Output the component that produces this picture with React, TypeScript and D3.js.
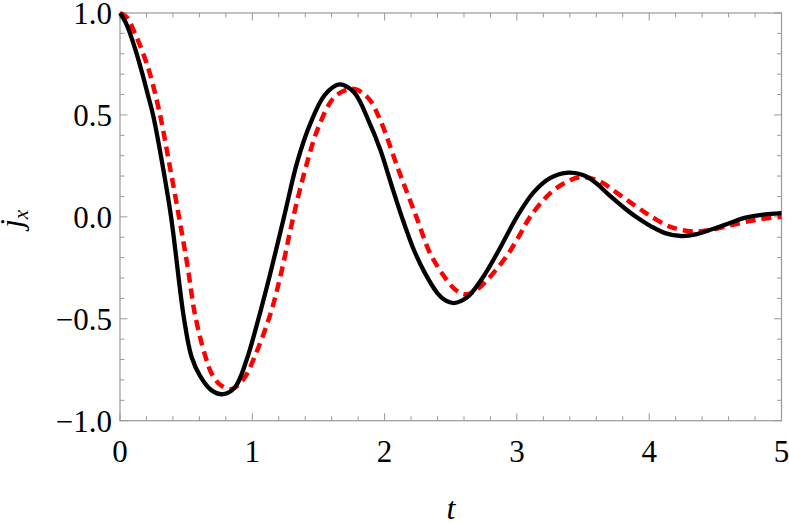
import React from "react";
import * as d3 from "d3";

const blackT = [0, 0.04, 0.076, 0.126, 0.17, 0.21, 0.25, 0.32, 0.386, 0.484, 0.54, 0.605, 0.69, 0.78, 0.87, 0.958, 1.034, 1.135, 1.24, 1.34, 1.44, 1.55, 1.66, 1.77, 1.88, 1.967, 2.05, 2.13, 2.22, 2.3, 2.4, 2.46, 2.52, 2.58, 2.64, 2.75, 2.875, 3.0, 3.126, 3.25, 3.39, 3.5, 3.6, 3.7, 3.8, 3.9, 4.01, 4.12, 4.24, 4.36, 4.48, 4.61, 4.72, 4.85, 5.0];
const blackV = [1.0, 0.957, 0.9, 0.8, 0.7, 0.6, 0.5, 0.26, 0.0, -0.5, -0.685, -0.78, -0.85, -0.87, -0.835, -0.7, -0.53, -0.28, 0.0, 0.27, 0.46, 0.6, 0.65, 0.61, 0.47, 0.33, 0.16, 0.0, -0.16, -0.27, -0.375, -0.41, -0.423, -0.412, -0.385, -0.29, -0.15, 0.0, 0.12, 0.19, 0.217, 0.205, 0.165, 0.105, 0.05, 0.0, -0.045, -0.08, -0.094, -0.085, -0.06, -0.03, -0.005, 0.01, 0.018];

const redT = [0, 0.05, 0.113, 0.17, 0.227, 0.303, 0.37, 0.446, 0.51, 0.567, 0.643, 0.694, 0.76, 0.84, 0.93, 1.034, 1.14, 1.22, 1.31, 1.42, 1.5, 1.61, 1.7, 1.78, 1.88, 1.97, 2.105, 2.24, 2.345, 2.47, 2.54, 2.61, 2.68, 2.775, 2.925, 3.02, 3.1, 3.25, 3.38, 3.49, 3.63, 3.75, 3.86, 3.96, 4.02, 4.16, 4.34, 4.5, 4.61, 4.75, 4.87, 5.0];
const redV = [1.0, 0.98, 0.9, 0.81, 0.7, 0.5, 0.27, 0.0, -0.24, -0.48, -0.68, -0.77, -0.825, -0.845, -0.8, -0.66, -0.47, -0.27, 0.0, 0.28, 0.44, 0.58, 0.62, 0.626, 0.58, 0.47, 0.23, 0.0, -0.18, -0.31, -0.36, -0.38, -0.365, -0.31, -0.19, -0.09, 0.0, 0.115, 0.173, 0.195, 0.173, 0.12, 0.07, 0.025, 0.0, -0.049, -0.072, -0.06, -0.042, -0.022, -0.008, 0.0];

const xTicks = [0, 1, 2, 3, 4, 5];
const yTicks = [-1.0, -0.5, 0.0, 0.5, 1.0];

const L = 120, R = 781.5, T = 13, B = 420.7;
const SERIF = "Liberation Serif";

export default function App() {
  const x = d3.scaleLinear().domain([0, 5]).range([L, R]);
  const y = d3.scaleLinear().domain([-1, 1]).range([B, T]);
  const line = d3
    .line<[number, number]>()
    .x((d) => x(d[0]))
    .y((d) => y(d[1]))
    .curve(d3.curveCatmullRom.alpha(0.5));
  const black = blackT.map((t, i) => [t, blackV[i]] as [number, number]);
  const red = redT.map((t, i) => [t, redV[i]] as [number, number]);

  const xMinor = d3.range(0, 5.0001, 0.2).map((v) => Math.round(v * 10) / 10);
  const yMinor = d3.range(-1, 1.0001, 0.1).map((v) => Math.round(v * 10) / 10);
  const isMajorX = (v: number) => Math.abs(v - Math.round(v)) < 1e-6;
  const isMajorY = (v: number) => Math.abs(v * 2 - Math.round(v * 2)) < 1e-6;
  const tickColor = "#999";
  const fmt = (v: number) => (v < 0 ? "\u2212" + Math.abs(v).toFixed(1) : v.toFixed(1));

  return (
    <svg width={789} height={523} style={{ position: "absolute", left: 0, top: 0, background: "#fff" }}>
      <rect x={L} y={T} width={R - L} height={B - T} fill="none" stroke={tickColor} strokeWidth={1.2} />
      {xMinor.map((v) => {
        const len = isMajorX(v) ? 7.5 : 4.5;
        return (
          <g key={"x" + v}>
            <line x1={x(v)} x2={x(v)} y1={B} y2={B - len} stroke={tickColor} strokeWidth={1} />
            <line x1={x(v)} x2={x(v)} y1={T} y2={T + len} stroke={tickColor} strokeWidth={1} />
          </g>
        );
      })}
      {yMinor.map((v) => {
        const len = isMajorY(v) ? 7.5 : 4.5;
        return (
          <g key={"y" + v}>
            <line x1={L} x2={L + len} y1={y(v)} y2={y(v)} stroke={tickColor} strokeWidth={1} />
            <line x1={R} x2={R - len} y1={y(v)} y2={y(v)} stroke={tickColor} strokeWidth={1} />
          </g>
        );
      })}
      {xTicks.map((v) => (
        <text key={"xl" + v} x={x(v)} y={462} textAnchor="middle" fontFamily={SERIF} fontSize={31}>
          {v}
        </text>
      ))}
      {yTicks.map((v) => (
        <text key={"yl" + v} x={112} y={y(v) + 11} textAnchor="end" fontFamily={SERIF} fontSize={31}>
          {fmt(v)}
        </text>
      ))}
      <path d={line(red) || ""} fill="none" stroke="#ff0000" strokeWidth={4.5} strokeDasharray="10,6" />
      <path d={line(black) || ""} fill="none" stroke="#000" strokeWidth={4.3} />
      <text x={451} y={519} textAnchor="middle" fontFamily={SERIF} fontStyle="italic" fontSize={32}>
        t
      </text>
      <text
        transform="translate(22,219) rotate(-90)"
        textAnchor="middle"
        fontFamily={SERIF}
        fontStyle="italic"
        fontSize={32}
      >
        j<tspan fontSize={21} dy={6}>x</tspan>
      </text>
    </svg>
  );
}
